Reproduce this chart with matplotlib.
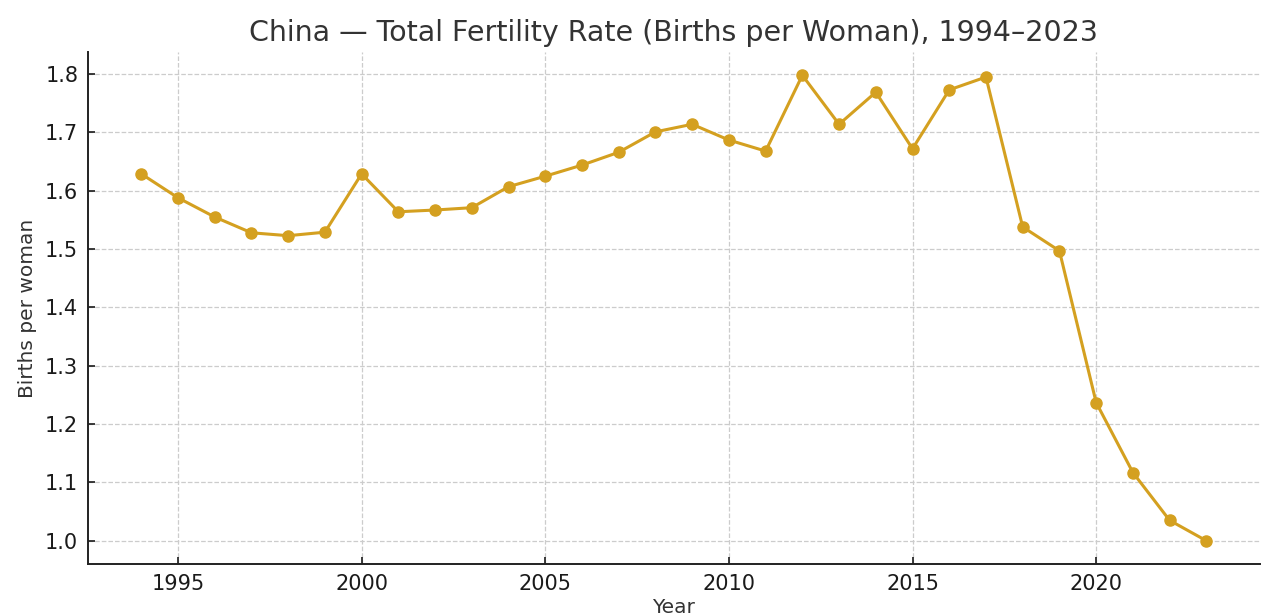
import matplotlib
matplotlib.use("Agg")
import matplotlib.pyplot as plt

years = list(range(1994, 2024))
tfr = [1.629, 1.588, 1.555, 1.528, 1.523, 1.529, 1.629, 1.564, 1.567, 1.571,
       1.607, 1.625, 1.644, 1.666, 1.701, 1.714, 1.687, 1.668, 1.798, 1.714,
       1.769, 1.672, 1.773, 1.795, 1.538, 1.497, 1.237, 1.117, 1.035, 1.000]
xticks = [1995, 2000, 2005, 2010, 2015, 2020]
yticks = [1.0, 1.1, 1.2, 1.3, 1.4, 1.5, 1.6, 1.7, 1.8]

fig = plt.figure(figsize=(12.8, 6.14), dpi=100)
ax = fig.add_axes([0.06875, 0.0814, 0.9153, 0.8339])
ax.plot(years, tfr, color="#D4A020", linewidth=2.2, marker="o", markersize=8)
ax.set_xticks(xticks)
ax.set_yticks(yticks)
ax.set_yticklabels([f"{v:.1f}" for v in yticks])
ax.grid(True, linestyle="--", color="#cccccc", linewidth=0.9)
ax.set_axisbelow(True)
for s in ["top", "right"]:
    ax.spines[s].set_visible(False)
for s in ["left", "bottom"]:
    ax.spines[s].set_linewidth(1.4)
    ax.spines[s].set_color("#222222")
ax.tick_params(direction="in", labelsize=15, length=5, width=1.2, colors="#1a1a1a", pad=7)
ax.set_title("China — Total Fertility Rate (Births per Woman), 1994–2023",
             fontsize=20.5, color="#333333", pad=8)
ax.set_xlabel("Year", fontsize=14.5, color="#333333", labelpad=3)
ax.set_ylabel("Births per woman", fontsize=14.5, color="#333333", labelpad=6)
fig.savefig("out.png", dpi=100)
